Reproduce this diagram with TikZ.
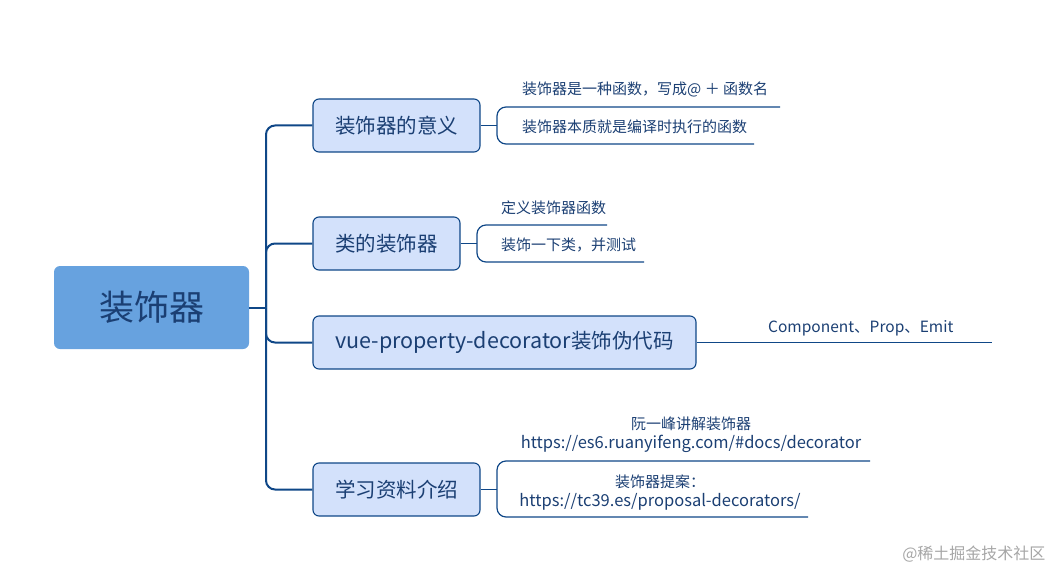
\documentclass[tikz,border=0pt]{standalone}
\usepackage{fontspec}
\setmainfont{Noto Sans CJK SC}
\usetikzlibrary{calc}
\definecolor{linec}{HTML}{0F4787}
\definecolor{textc}{HTML}{1B3F73}
\definecolor{rootc}{HTML}{67A2DF}
\definecolor{boxc}{HTML}{D3E1FB}
\tikzset{
  rootbox/.style={fill=rootc, rounded corners=6pt, minimum width=195pt, minimum height=83pt, text=textc, font=\fontsize{35}{40}\selectfont},
  topic/.style={draw=linec, line width=1.1pt, fill=boxc, rounded corners=6pt, minimum height=53pt, text=textc, font=\fontsize{20.5}{24}\selectfont},
  leaf/.style={text=textc, inner sep=0pt, font=\fontsize{15}{17}\selectfont},
  link/.style={linec, line width=2pt},
  twig/.style={linec, line width=1.2pt}
}
% bracket joining two leaf lines: x, top y, bottom y, top end, bottom end
\newcommand{\bracket}[5]{\draw[twig, rounded corners=9pt] (#4, #2) -- (#1, #2) -- (#1, #3) -- (#5, #3);}
\begin{document}
\begin{tikzpicture}[x=1pt, y=-1pt]
        \useasboundingbox (0,0) rectangle (1056,572);
        % root and topics
        \node[rootbox] (root) at (151.5,307.5) {装饰器};
        \node[topic, minimum width=167pt] (mean) at (396.5,125.5) {装饰器的意义};
        \node[topic, minimum width=147pt] (cls) at (386.5,243.5) {类的装饰器};
        \node[topic, minimum width=383pt] (vue) at (504.5,342.5) {{\fontsize{21.5}{24}\selectfont vue-property-decorator}装饰伪代码};
        \node[topic, minimum width=167pt] (learn) at (396.5,489.5) {学习资料介绍};
        % spine
        \coordinate (spine) at (266,307.5);
        \draw[link] (root.east) -- (spine);
        \draw[link, rounded corners=9pt] (spine) |- (mean.west);
        \draw[link, rounded corners=9pt] (spine) |- (cls.west);
        \draw[link, rounded corners=9pt] (spine) |- (vue.west);
        \draw[link, rounded corners=9pt] (spine) |- (learn.west);
        % leaves of mean
        \node[leaf, anchor=base west] (m1) at (522,95) {装饰器是一种函数，写成@ ＋ 函数名};
        \node[leaf, anchor=base west] (m2) at (522,133) {装饰器本质就是编译时执行的函数};
        \coordinate (mk) at (497,125.5);
        \draw[twig] (mean.east) -- (mk);
        \bracket{497}{107}{144}{780}{754}
        % leaves of cls
        \node[leaf, anchor=base west] (c1) at (501,213) {定义装饰器函数};
        \node[leaf, anchor=base west] (c2) at (501,250) {装饰一下类，并测试};
        \coordinate (ck) at (477,243.5);
        \draw[twig] (cls.east) -- (ck);
        \bracket{477}{225}{262}{607}{644}
        % leaf of vue
        \node[leaf, anchor=base west, font=\fontsize{15.5}{18}\selectfont] (v1) at (768,332) {Component、Prop、Emit};
        \coordinate (ve) at (992,342.5);
        \draw[twig] (vue.east) -- (ve);
        % leaves of learn
        \node[leaf, align=center, anchor=south] (l1) at (691,453) {阮一峰讲解装饰器\\[2pt]{\fontsize{16.5}{19}\selectfont https://es6.ruanyifeng.com/\#docs/decorator}};
        \node[leaf, align=center, anchor=south] (l2) at (660,510) {装饰器提案：\\[2pt]{\fontsize{16.5}{19}\selectfont https://tc39.es/proposal-decorators/}};
        \coordinate (lk) at (497,489.5);
        \draw[twig] (learn.east) -- (lk);
        \bracket{497}{461}{517}{870}{808}
        % watermark
        \node[text=black!35, font=\fontsize{16}{18}\selectfont, anchor=east] (mark) at (1049,554) {@稀土掘金技术社区};
\end{tikzpicture}
\end{document}
